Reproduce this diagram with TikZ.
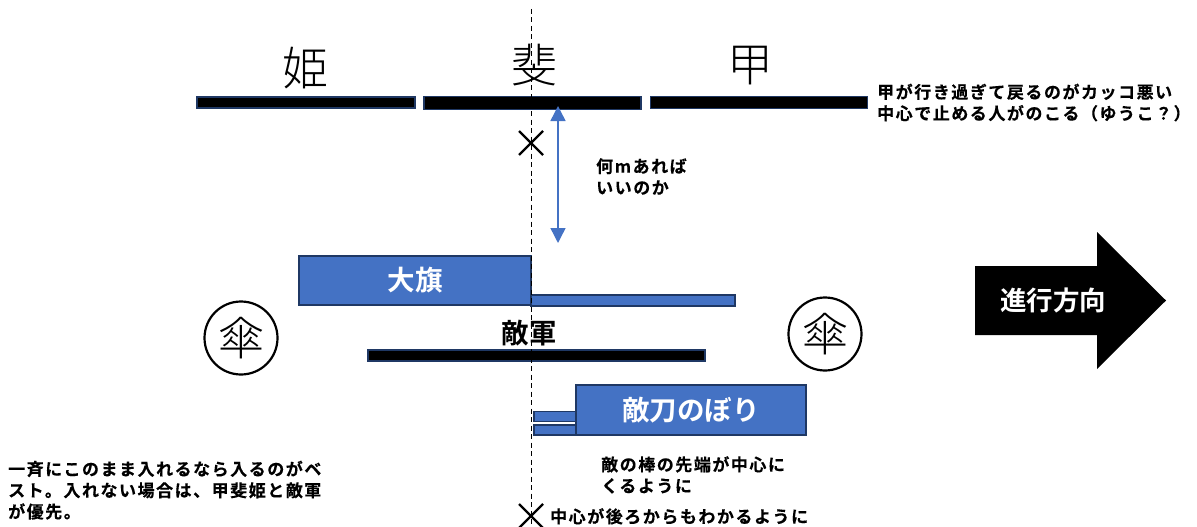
\documentclass[tikz,border=0pt]{standalone}
\usepackage{fontspec}
\usetikzlibrary{arrows.meta,shapes.arrows}
\setmainfont{Noto Sans CJK JP}
\newfontfamily\jpb[LetterSpace=9,FakeBold=0.25]{Noto Sans CJK JP Bold}
\newfontfamily\jpbb{Noto Sans CJK JP Bold}
\newfontfamily\jpl{Noto Sans CJK JP Light}
\definecolor{navy}{HTML}{1F3864}
\definecolor{blu}{HTML}{4472C4}
\tikzset{
  blackbar/.style={draw=navy,fill=black,line width=1.8pt,minimum height=0pt,inner sep=0pt},
  bluebox/.style={draw=navy,fill=blu,line width=2.2pt,inner sep=0pt},
  title/.style={font=\fontsize{46}{46}\selectfont\jpl,text=black,inner sep=0pt},
  note/.style={font=\fontsize{17}{21.3}\jpb\selectfont,align=left,anchor=north west,inner sep=0pt,text=black},
  big/.style={font=\fontsize{27.5}{27.5}\jpbb\selectfont,inner sep=0pt},
  crossmark/.style={line width=2.4pt,black},
  umbrella/.style={draw=black,line width=2.2pt,circle,minimum size=73pt,inner sep=0pt,font=\fontsize{46}{46}\selectfont\jpl},
}
\begin{document}
\begin{tikzpicture}[x=1pt,y=-1pt]
\useasboundingbox (0,0) rectangle (1197,527);
\clip (0,0) rectangle (1197,527);
% bars
\node[blackbar,minimum width=218pt,minimum height=11pt] (hime) at (306,102.5) {};
\node[blackbar,minimum width=217pt,minimum height=13pt] (hi) at (532.5,103) {};
\node[blackbar,minimum width=217pt,minimum height=12pt] (ko) at (759,102.5) {};
\node[title] (thime) at (305,68) {姫};
\node[title] (thi) at (534,65) {斐};
\node[title] (tko) at (750,66) {甲};
% enemy bars
\node[bluebox,minimum width=204pt,minimum height=11pt] (pole) at (633,300.5) {};
\node[bluebox,minimum width=232pt,minimum height=49pt,text=white,font=\fontsize{27.5}{27.5}\jpbb\selectfont] (flag) at (415,280.5) {大旗};
\node[blackbar,minimum width=337pt,minimum height=11pt] (enemy) at (536.5,355.5) {};
\node[big] (tenemy) at (529,333) {敵軍};
\node[bluebox,line width=1.6pt,minimum width=42pt,minimum height=10pt] (p1) at (555,416.5) {};
\node[bluebox,line width=1.6pt,minimum width=42pt,minimum height=10pt] (p2) at (555,430) {};
\node[bluebox,minimum width=230pt,minimum height=50pt,text=white,font=\fontsize{27.5}{27.5}\jpbb\selectfont] (nobori) at (691,410) {敵刀のぼり};
% umbrellas
\node[umbrella] (u1) at (241,338) {傘};
\node[umbrella] (u2) at (825,334) {傘};
% centre line
\coordinate (ctop) at (531,9);
\coordinate (cbot) at (531,527);
\draw[black,line width=0.9pt,dash pattern=on 5pt off 3.5pt] (ctop) -- (cbot);
% crosses
\coordinate (x1) at (531,143);
\coordinate (x2) at (531,516);
\draw[crossmark] ([shift={(-12,-12)}]x1) -- ([shift={(12,12)}]x1) ([shift={(-12,12)}]x1) -- ([shift={(12,-12)}]x1);
\draw[crossmark] ([shift={(-12,-12)}]x2) -- ([shift={(12,12)}]x2) ([shift={(-12,12)}]x2) -- ([shift={(12,-12)}]x2);
% measure arrow
\coordinate (m1) at (558,106);
\coordinate (m2) at (558,243);
\draw[{Triangle[width=15pt,length=15pt]}-{Triangle[width=15pt,length=15pt]},blu,line width=1.4pt] (m1) -- (m2);
% direction arrow
\fill[black] (975,266) -- (1097,266) -- (1097,232) -- (1166,300.5) -- (1097,369) -- (1097,335) -- (975,335) -- cycle;
\node[big,text=white,font=\fontsize{26.5}{26.5}\jpbb\selectfont] (dir) at (1053,300) {進行方向};
% notes
\node[note] (n1) at (877,83.5) {甲が行き過ぎて戻るのがカッコ悪い\\中心で止める人がのこる（ゆうこ？）};
\node[note] (n2) at (596,158) {何mあれば\\いいのか};
\node[note] (n3) at (601,456) {敵の棒の先端が中心に\\くるように};
\node[note] (n4) at (550,508) {中心が後ろからもわかるように};
\node[note] (n5) at (8,460.5) {一斉にこのまま入れるなら入るのがベ\\スト。入れない場合は、甲斐姫と敵軍\\が優先。};
\end{tikzpicture}
\end{document}
